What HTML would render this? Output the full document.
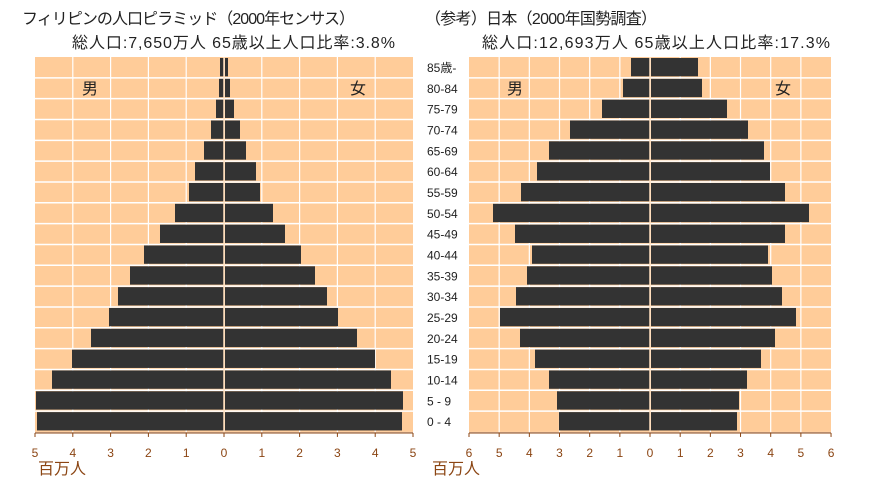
<!DOCTYPE html>
<html><head><meta charset="utf-8"><style>
html,body{margin:0;padding:0;background:#fff;width:886px;height:479px;overflow:hidden}
svg{display:block;font-family:"Liberation Sans","Noto Sans CJK JP",sans-serif}
</style></head><body>
<svg id="s" width="886" height="479" xmlns="http://www.w3.org/2000/svg">
<text x="22" y="24" font-size="16" fill="#222" textLength="333">フィリピンの人口ピラミッド（2000年センサス）</text>
<text x="72" y="48" font-size="16" fill="#222" textLength="323">総人口:7,650万人  65歳以上人口比率:3.8%</text>
<text x="425" y="24" font-size="16" fill="#222" textLength="232">（参考）日本（2000年国勢調査）</text>
<text x="482" y="48" font-size="16" fill="#222" textLength="348">総人口:12,693万人  65歳以上人口比率:17.3%</text>
<text x="38" y="474" font-size="16" fill="#8b4513">百万人</text>
<text x="432" y="474" font-size="16" fill="#8b4513">百万人</text>
</svg>
<script>
(function(){
const s=document.getElementById('s');const NS='http://www.w3.org/2000/svg';
function el(t,a,txt){const e=document.createElementNS(NS,t);for(const k in a)e.setAttribute(k,a[k]);if(txt!=null)e.textContent=txt;s.appendChild(e);return e;}
const T=57,rh=20.83,n=18;
const labels=['85歳-','80-84','75-79','70-74','65-69','60-64','55-59','50-54','45-49','40-44','35-39','30-34','25-29','20-24','15-19','10-14','5 - 9','0 - 4'];
function chart(x0,x1,c,u,max,bars,mx,fx){
  el('rect',{x:x0,y:T,width:x1-x0,height:rh*n,fill:'#ffcc99'});
  for(let i=1;i<2*max;i++){const x=x0+i*u;el('line',{x1:x,y1:T,x2:x,y2:T+rh*n,stroke:'#fff','stroke-width':1.2});}
  for(let i=1;i<n;i++){const y=T+i*rh;el('line',{x1:x0,y1:y,x2:x1,y2:y,stroke:'#fff','stroke-width':1.5});}
  bars.forEach((b,i)=>{const y=T+i*rh+1;el('rect',{x:b[0],y:y,width:c-b[0],height:rh-2.5,fill:'#333'});el('rect',{x:c+1,y:y,width:b[1]-c-1,height:rh-2.5,fill:'#333'});});
  el('line',{x1:c,y1:T,x2:c,y2:T+rh*n,stroke:'#ffe0c0','stroke-width':1.5});
  const by=T+rh*n+1;
  el('line',{x1:x0,y1:by,x2:x1,y2:by,stroke:'#8b4513','stroke-width':1.2});
  for(let i=0;i<=2*max;i++){const x=x0+i*u;el('line',{x1:x,y1:by,x2:x,y2:by+4,stroke:'#8b4513','stroke-width':1});el('text',{x:x,y:by+24,'font-size':12,fill:'#8b4513','text-anchor':'middle'},String(Math.abs(i-max)));}
  el('text',{x:mx,y:94,'font-size':16,fill:'#222'},'男');el('text',{x:fx,y:94,'font-size':16,fill:'#222'},'女');
}
chart(35,413,224,37.8,5,[[220,228],[219,230],[216,234],[211,240],[204,246],[195,256],[189,260],[175,273],[160,285],[144,301],[130,315],[118,327],[109,338],[91,357],[72,375],[52,391],[36,403],[37,402]],82,350);
chart(469,831,650,30.17,6,[[631,698],[623,702],[602,727],[570,748],[549,764],[537,770],[521,785],[493,809],[515,785],[532,768],[527,772],[516,782],[500,796],[520,775],[535,761],[549,747],[557,739],[559,737]],507,775);
labels.forEach((l,i)=>el('text',{x:427,y:T+i*rh+15,'font-size':12,fill:'#222'},l));
})();
</script>
</body></html>
